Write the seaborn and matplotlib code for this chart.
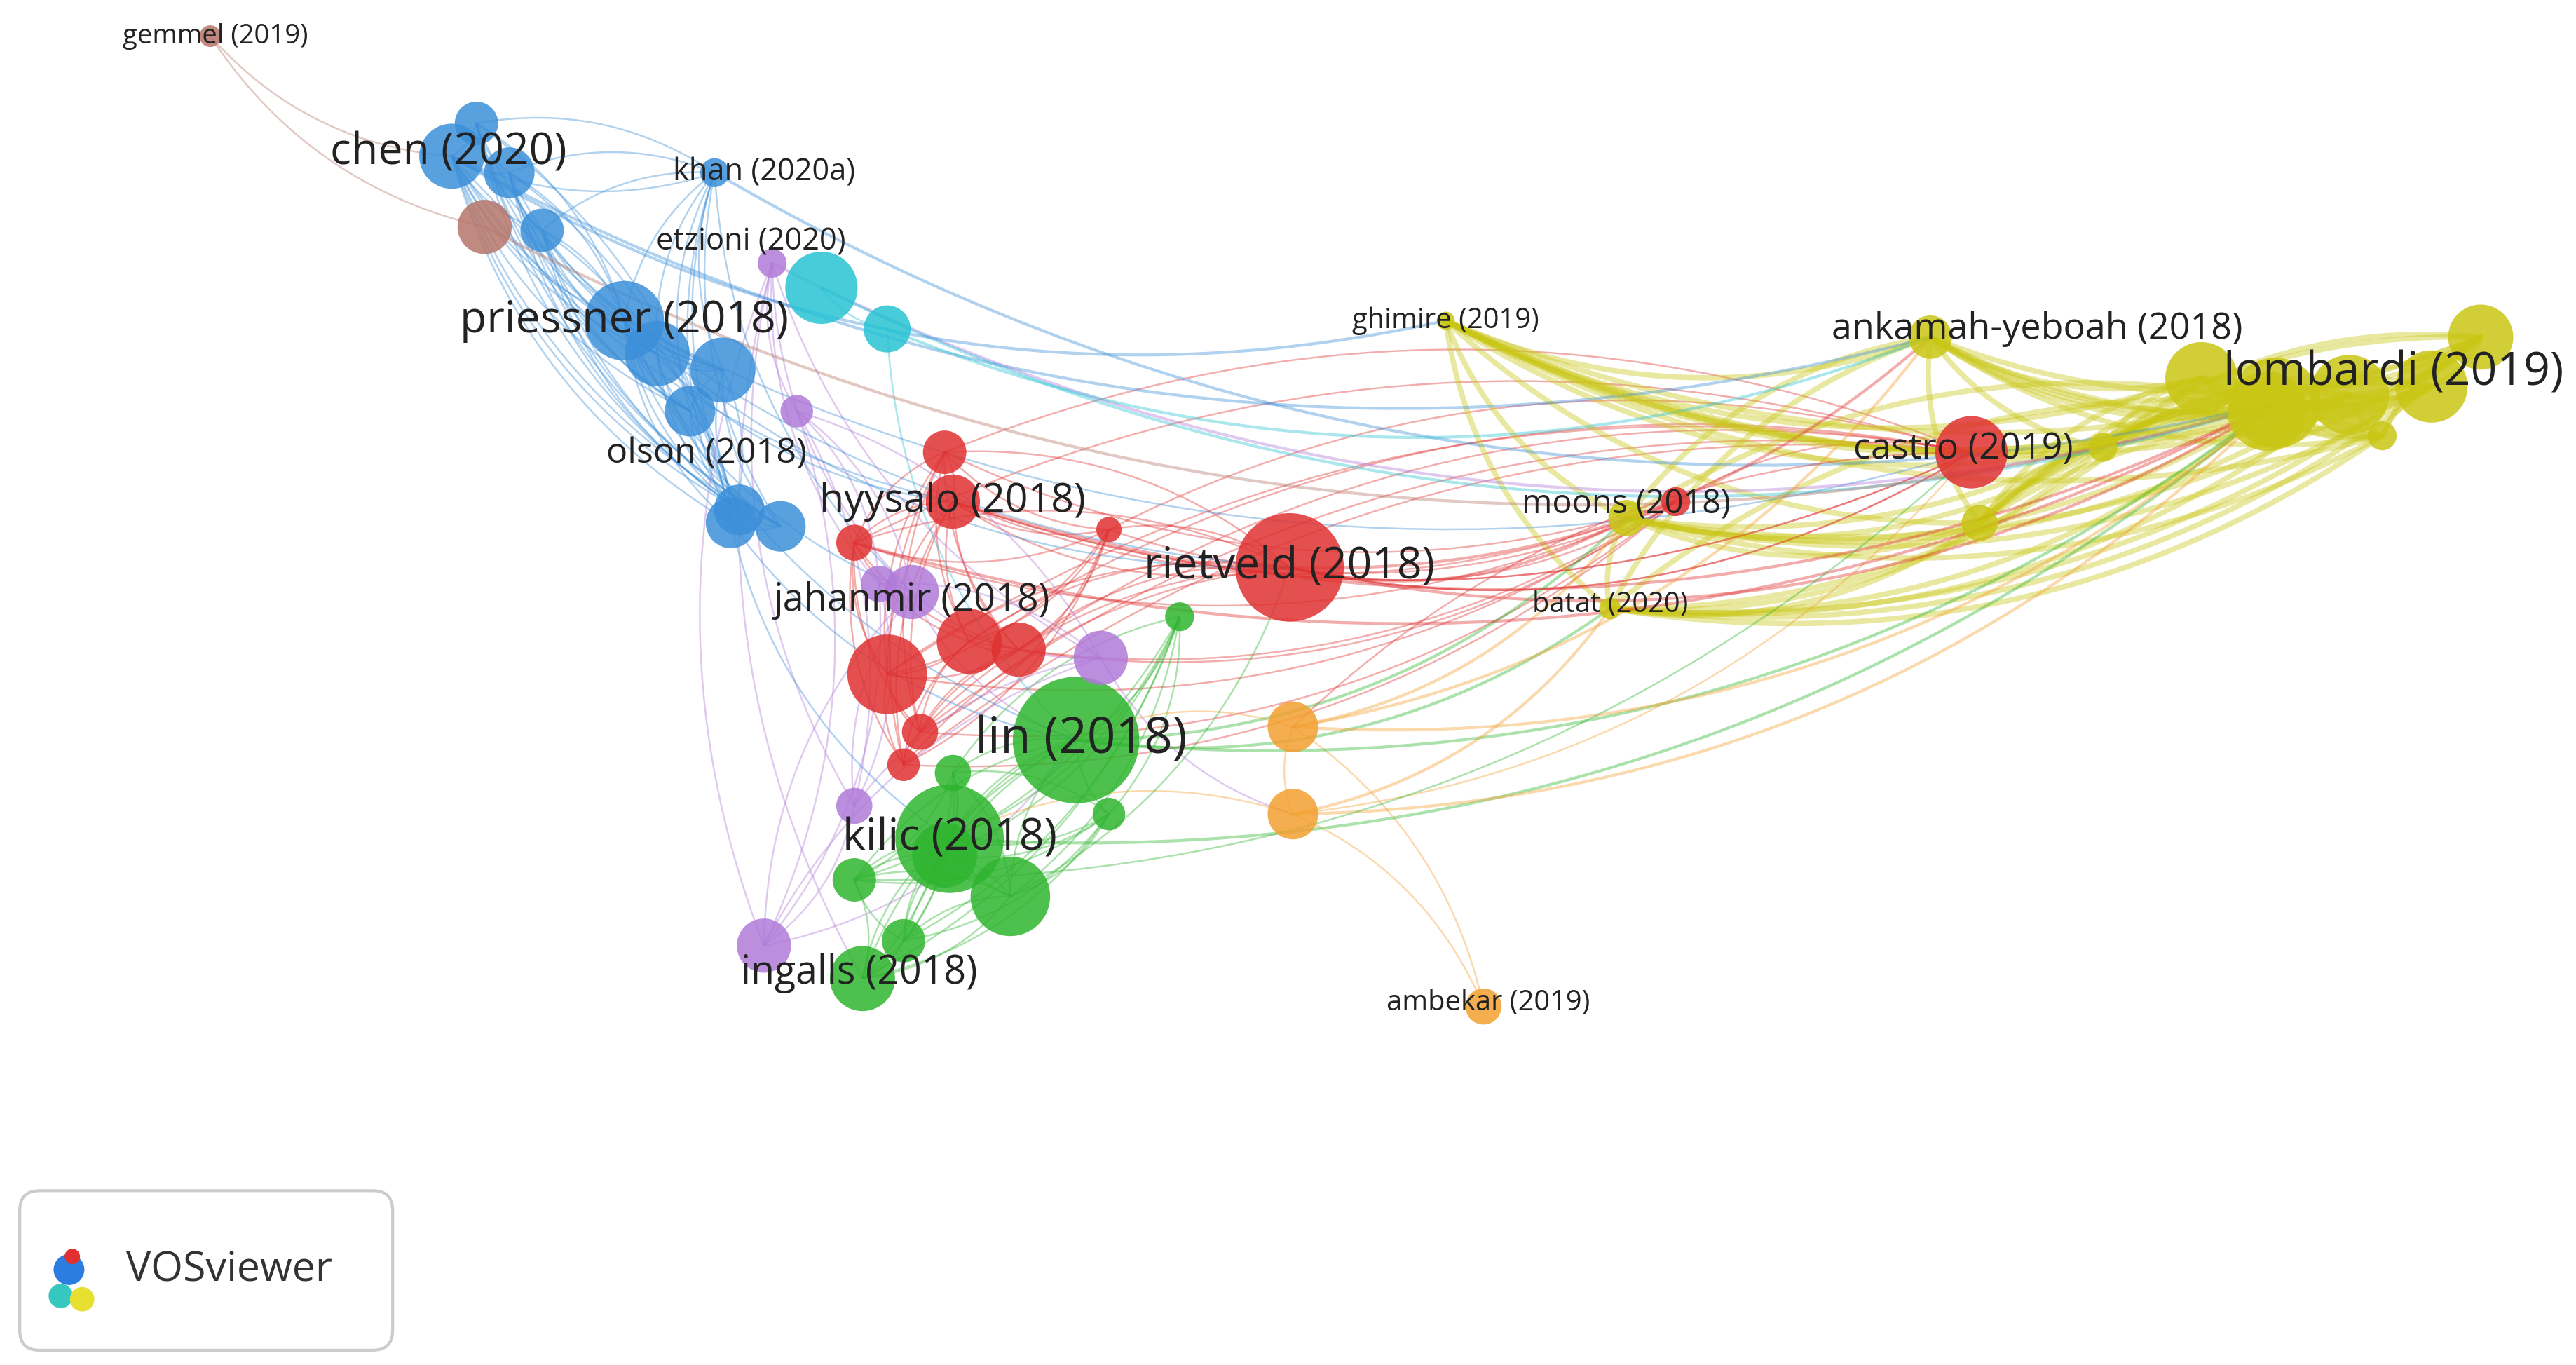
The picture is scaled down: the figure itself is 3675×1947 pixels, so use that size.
import numpy as np
import pandas as pd
import matplotlib
matplotlib.use("Agg")
import matplotlib.pyplot as plt
import seaborn as sns
from matplotlib.patches import FancyBboxPatch
from itertools import combinations

sns.set_theme(style="white")
plt.rcParams['font.family'] = ['Open Sans', 'DejaVu Sans']

COL = {"blue": "#3b8fd9", "red": "#e03131", "green": "#2fb52f", "purple": "#b07ad9",
       "yellow": "#c9c614", "orange": "#f4a030", "cyan": "#28c3d4", "brown": "#b5766a"}

labels = ["gemmel (2019)", "chen (2020)", "khan (2020a)", "etzioni (2020)", "priessner (2018)",
          "olson (2018)", "hyysalo (2018)", "jahanmir (2018)", "rietveld (2018)", "lin (2018)",
          "kilic (2018)", "ingalls (2018)", "ghimire (2019)", "ankamah-yeboah (2018)",
          "lombardi (2019)", "castro (2019)", "moons (2018)", "batat (2020)", "ambekar (2019)"]
lab_x = [128, 275, 435, 470, 380, 445, 580, 555, 785, 655, 578, 525, 880, 1175, 1385, 1200, 990, 980, 903]
lab_y = [22, 95, 105, 160, 195, 318, 305, 360, 345, 450, 510, 595, 195, 205, 245, 275, 315, 370, 612]
lab_r = [6, 18, 8, 8, 22, 14, 15, 15, 30, 35, 30, 18, 5, 12, 25, 20, 10, 6, 10]
lab_c = ["brown", "blue", "blue", "purple", "blue", "blue", "red", "purple", "red", "green",
         "green", "green", "yellow", "yellow", "yellow", "red", "yellow", "yellow", "orange"]
lab_fs = [11, 18, 12.5, 12.5, 18, 14.5, 16.5, 15.5, 18, 20.5, 18, 16, 11.5, 15, 19, 15, 13.5, 11.5, 11.5]
lab_dx = [3, -2, 30, -13, 0, -15, 0, 0, 0, 3, 0, -2, 0, 65, 72, -5, 0, 0, 3]
lab_dy = [0, -2, 0, -13, 0, -42, 0, 5, 0, 0, 0, -3, 0, -5, -18, -2, -8, -2, -2]

ux = [787, 787, 500, 540, 295, 290, 310, 330, 400, 440, 420, 450, 475,
      575, 520, 540, 590, 620, 560, 550, 675,
      670, 465, 520, 535, 485,
      615, 575, 520, 550, 675, 718, 580,
      1340, 1380, 1430, 1480, 1510, 1450, 1280, 1205, 1020]
uy = [442, 495, 175, 200, 138, 75, 105, 140, 215, 225, 250, 310, 320,
      275, 330, 410, 390, 395, 445, 465, 322,
      400, 575, 490, 355, 250,
      545, 520, 535, 572, 495, 375, 470,
      230, 250, 240, 235, 205, 265, 272, 318, 305]
ur = [14, 14, 20, 13, 15, 12, 14, 12, 18, 18, 14, 14, 14,
      12, 10, 22, 18, 15, 10, 9, 7,
      15, 15, 10, 10, 9,
      22, 18, 12, 12, 9, 8, 10,
      20, 22, 22, 20, 18, 8, 8, 10, 8]
uc = ["orange"] * 2 + ["cyan"] * 2 + ["brown"] + ["blue"] * 8 + ["red"] * 8 + ["purple"] * 5 + \
     ["green"] * 7 + ["yellow"] * 8 + ["red"]

df = pd.DataFrame({"x": lab_x + ux, "y": lab_y + uy, "r": lab_r + ur, "c": lab_c + uc})

cross = [(1, 8), (4, 8), (4, 15), (2, 14), (1, 13), (3, 14), (6, 14), (8, 14), (8, 13), (8, 16),
         (9, 14), (9, 16), (9, 17), (10, 14), (19, 14), (20, 14), (19, 13), (20, 15), (19, 16),
         (20, 17), (8, 15), (6, 15), (21, 14), (22, 13), (7, 9), (4, 9), (5, 10), (3, 11),
         (4, 6), (1, 6), (5, 9), (4, 7), (2, 7), (22, 9), (23, 14), (12, 14), (19, 9), (20, 10),
         (33, 14), (15, 19), (1, 12), (0, 1), (41, 9), (47, 15), (45, 8), (40, 20)]
edges = []
for cl in COL:
    idx = list(df.index[df.c == cl])
    edges += list(combinations(idx, 2))
edges += cross

W, H = 1568, 830
fig = plt.figure(figsize=(14.7, 7.788), dpi=250)
ax = fig.add_axes([0, 0, 1, 1])

t = np.linspace(0, 1, 40)
for a, b in edges:
    x0, y0 = df.x[a], df.y[a]
    x1, y1 = df.x[b], df.y[b]
    dx, dy = x1 - x0, y1 - y0
    cx, cy = (x0 + x1) / 2 - 0.2 * dy, (y0 + y1) / 2 + 0.2 * dx
    bx = (1 - t) ** 2 * x0 + 2 * (1 - t) * t * cx + t ** 2 * x1
    by = (1 - t) ** 2 * y0 + 2 * (1 - t) * t * cy + t ** 2 * y1
    yel = df.c[a] == "yellow" or df.c[b] == "yellow"
    lw = 2.2 if df.c[a] == df.c[b] == "yellow" else (1.2 if yel else 0.7)
    ax.plot(bx, by, color=COL[df.c[a]], alpha=0.4, lw=lw, zorder=1)

scale = 3675 / W * 72 / 250
df["s"] = (2 * df.r * 1.1 * scale) ** 2
order = df.sort_values("r", ascending=False)
sns.scatterplot(data=order, x="x", y="y", hue="c", palette=COL, size="s",
                sizes=(order.s.min(), order.s.max()), legend=False, ax=ax,
                alpha=0.85, linewidth=0, zorder=2)
ax.set_xlim(0, W); ax.set_ylim(H, 0); ax.axis("off")

for i, lab in enumerate(labels):
    ax.text(lab_x[i] + lab_dx[i], lab_y[i] + lab_dy[i], lab, fontsize=lab_fs[i],
            ha="center", va="center", color="#222222", zorder=3)

box = FancyBboxPatch((12, 724), 227, 97, boxstyle="round,pad=0,rounding_size=12",
                     fc="white", ec="#cccccc", lw=1.2, zorder=4)
ax.add_patch(box)
ax.scatter([42, 37, 50, 44], [772, 788, 790, 764], s=[160, 100, 100, 40],
           c=["#2b7de0", "#36c8c0", "#e8e030", "#e03030"], zorder=5, linewidth=0)
ax.text(77, 772, "VOSviewer", fontsize=17, va="center", color="#333333", zorder=5)

fig.savefig("out.png", dpi=250)
